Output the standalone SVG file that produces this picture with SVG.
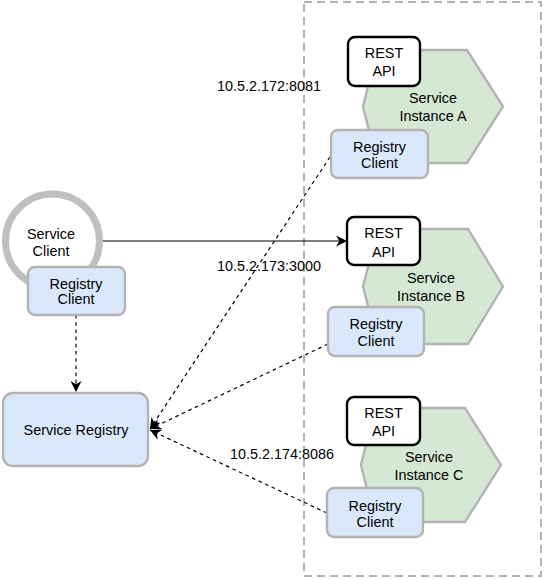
<svg xmlns="http://www.w3.org/2000/svg" width="545" height="579" viewBox="0 0 545 579">
<style>
text{font-family:"Liberation Sans",Arial,Helvetica,sans-serif;font-size:14.4px;fill:#000;text-anchor:middle}
.lbl{text-anchor:start}
.hex{fill:#d5e8d4;stroke:#b3b3b3;stroke-width:2.4}
.api{fill:#fff;stroke:#000;stroke-width:2.4}
.rc{fill:#dae8fc;stroke:#b3b3b3;stroke-width:2.4}
.dash{fill:none;stroke:#000;stroke-width:1.2;stroke-dasharray:3.6 3.6}
.solid{fill:none;stroke:#000;stroke-width:1.2}
</style>
<defs>
<marker id="arr" viewBox="0 0 10 10" refX="10" refY="5" markerWidth="11" markerHeight="11" markerUnits="userSpaceOnUse" orient="auto">
<path d="M0,0 L10,5 L0,10 L3,5 Z" fill="#000"/>
</marker>
</defs>
<rect id="container" x="304" y="2" width="237" height="574" fill="none" stroke="#b3b3b3" stroke-width="2" stroke-dasharray="8 5"/>
<g id="connectors">
<line class="solid" x1="103" y1="241" x2="347" y2="241" marker-end="url(#arr)"/>
<line class="dash" x1="76" y1="315" x2="76" y2="392" marker-end="url(#arr)"/>
<line class="dash" x1="330" y1="157" x2="150" y2="429" marker-end="url(#arr)"/>
<line class="dash" x1="328" y1="344" x2="150" y2="429" marker-end="url(#arr)"/>
<line class="dash" x1="327" y1="513" x2="150" y2="430" marker-end="url(#arr)"/>
<text class="lbl" x="217" y="91">10.5.2.172:8081</text>
<text class="lbl" x="217" y="271">10.5.2.173:3000</text>
<text class="lbl" x="230" y="459">10.5.2.174:8086</text>
</g>
<g id="service-client">
<circle cx="52.5" cy="241" r="47" fill="#fff" stroke="#bfbfbf" stroke-width="7"/>
<text x="51" y="239">Service</text>
<text x="51" y="256">Client</text>
</g>
<g id="client-registry-client">
<rect class="rc" x="28" y="267" width="97" height="48" rx="7"/>
<text x="76" y="289">Registry</text>
<text x="76" y="304">Client</text>
</g>
<g id="service-registry">
<rect class="rc" x="3" y="393" width="145" height="73" rx="10"/>
<text x="76" y="435">Service Registry</text>
</g>
<g id="service-instance-a">
<polygon class="hex" points="363,106.5 377,50 467,50 503,106.5 467,163 377,163"/>
<text x="433" y="103">Service</text>
<text x="433" y="121">Instance A</text>
</g>
<g id="rest-api-a">
<rect class="api" x="348" y="37" width="72" height="49" rx="7"/>
<text x="384" y="58">REST</text>
<text x="384" y="76">API</text>
</g>
<g id="registry-client-a">
<rect class="rc" x="331" y="130" width="97" height="48" rx="7"/>
<text x="379.5" y="152">Registry</text>
<text x="379.5" y="168">Client</text>
</g>
<g id="service-instance-b">
<polygon class="hex" points="363,286.5 378,229 468,229 503,286.5 468,344 378,344"/>
<text x="431" y="283">Service</text>
<text x="431" y="301">Instance B</text>
</g>
<g id="rest-api-b">
<rect class="api" x="347" y="217" width="73" height="48" rx="7"/>
<text x="383.5" y="238">REST</text>
<text x="383.5" y="257">API</text>
</g>
<g id="registry-client-b">
<rect class="rc" x="328" y="307" width="96" height="49" rx="7"/>
<text x="376" y="329">Registry</text>
<text x="376" y="346">Client</text>
</g>
<g id="service-instance-c">
<polygon class="hex" points="361,465 375,408 465,408 501,465 465,522 375,522"/>
<text x="429" y="462">Service</text>
<text x="429" y="480">Instance C</text>
</g>
<g id="rest-api-c">
<rect class="api" x="347" y="397" width="73" height="48" rx="7"/>
<text x="383.5" y="418">REST</text>
<text x="383.5" y="436">API</text>
</g>
<g id="registry-client-c">
<rect class="rc" x="327" y="488" width="96" height="49" rx="7"/>
<text x="375" y="511">Registry</text>
<text x="375" y="527">Client</text>
</g>
</svg>
